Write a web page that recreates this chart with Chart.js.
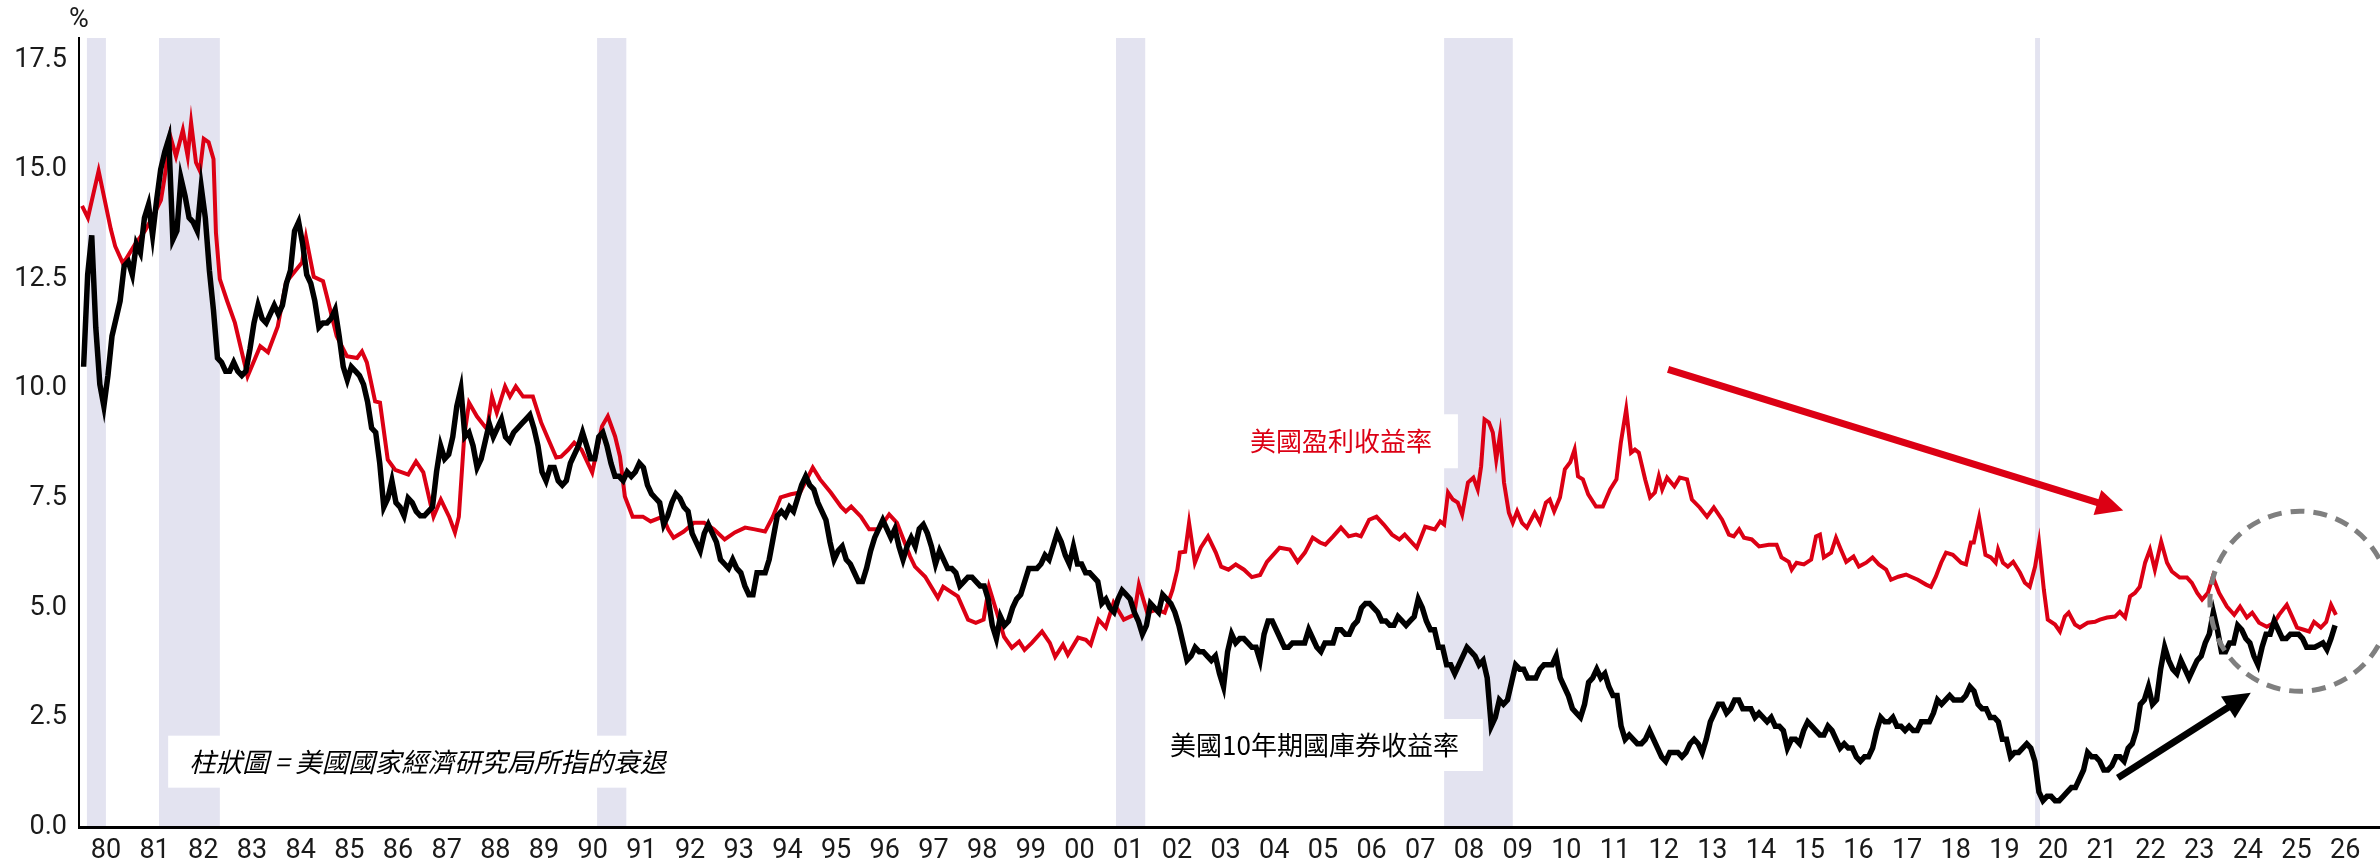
<!DOCTYPE html>
<html>
<head>
<meta charset="utf-8">
<script src="https://cdn.jsdelivr.net/npm/chart.js@4"></script>
<style>
  html, body { margin: 0; padding: 0; background: #fff; }
  canvas { display: block; }
</style>
</head>
<body>
<canvas id="yieldChart" width="2380" height="866"></canvas>
<script>
// US 10-year Treasury yield, monthly from Jan 1980 (one row per year)
const treasuryStart = 1980;
const treasury10y = [
  10.5, 12.6, 13.5, 11.4, 10.1, 9.6, 10.3, 11.2, 11.6, 12.0, 12.8, 12.9,
  12.6, 13.3, 13.1, 13.9, 14.2, 13.5, 14.3, 15.0, 15.4, 15.7, 13.4, 13.6,
  14.8, 14.4, 13.9, 13.8, 13.6, 14.6, 13.9, 12.7, 11.8, 10.7, 10.6, 10.4,
  10.4, 10.6, 10.4, 10.3, 10.4, 10.9, 11.5, 11.9, 11.6, 11.5, 11.7, 11.9,
  11.7, 11.9, 12.4, 12.7, 13.6, 13.8, 13.3, 12.6, 12.4, 12.0, 11.4, 11.5,
  11.5, 11.6, 11.8, 11.2, 10.5, 10.2, 10.5, 10.4, 10.3, 10.1, 9.7, 9.1,
  9.0, 8.3, 7.3, 7.5, 7.9, 7.4, 7.3, 7.1, 7.5, 7.4, 7.2, 7.1,
  7.1, 7.2, 7.3, 8.1, 8.7, 8.4, 8.5, 8.9, 9.6, 10.0, 8.9, 9.0,
  8.7, 8.2, 8.4, 8.8, 9.2, 8.9, 9.1, 9.3, 8.9, 8.8, 9.0, 9.1,
  9.2, 9.3, 9.4, 9.1, 8.7, 8.1, 7.9, 8.2, 8.2, 7.9, 7.8, 7.9,
  8.3, 8.5, 8.7, 9.0, 8.7, 8.4, 8.4, 8.9, 9.0, 8.7, 8.3, 8.0,
  8.0, 7.9, 8.1, 8.0, 8.1, 8.3, 8.2, 7.8, 7.6, 7.5, 7.4, 6.9,
  7.1, 7.4, 7.6, 7.5, 7.3, 7.2, 6.7, 6.5, 6.3, 6.7, 6.9, 6.7,
  6.5, 6.1, 6.0, 5.9, 6.1, 5.9, 5.8, 5.5, 5.3, 5.3, 5.8, 5.8,
  5.8, 6.1, 6.6, 7.1, 7.2, 7.1, 7.3, 7.2, 7.5, 7.8, 8.0, 7.8,
  7.7, 7.4, 7.2, 7.0, 6.5, 6.1, 6.3, 6.4, 6.1, 6.0, 5.8, 5.6,
  5.6, 5.9, 6.3, 6.6, 6.8, 7.0, 6.8, 6.6, 6.8, 6.4, 6.1, 6.4,
  6.6, 6.4, 6.8, 6.9, 6.7, 6.4, 6.0, 6.3, 6.1, 5.9, 5.9, 5.8,
  5.5, 5.6, 5.7, 5.7, 5.6, 5.5, 5.5, 5.2, 4.6, 4.3, 4.8, 4.6,
  4.7, 5.0, 5.2, 5.3, 5.6, 5.9, 5.9, 5.9, 6.0, 6.2, 6.1, 6.4,
  6.7, 6.5, 6.2, 6.0, 6.4, 6.0, 6.0, 5.8, 5.8, 5.7, 5.6, 5.1,
  5.2, 5.0, 4.9, 5.2, 5.4, 5.3, 5.2, 4.9, 4.7, 4.4, 4.6, 5.1,
  5.0, 4.9, 5.3, 5.2, 5.1, 4.9, 4.6, 4.2, 3.8, 3.9, 4.1, 4.0,
  4.0, 3.9, 3.8, 3.9, 3.5, 3.2, 4.0, 4.4, 4.2, 4.3, 4.3, 4.2,
  4.1, 4.1, 3.8, 4.4, 4.7, 4.7, 4.5, 4.3, 4.1, 4.1, 4.2, 4.2,
  4.2, 4.2, 4.5, 4.3, 4.1, 4.0, 4.2, 4.2, 4.2, 4.5, 4.5, 4.4,
  4.4, 4.6, 4.7, 5.0, 5.1, 5.1, 5.0, 4.9, 4.7, 4.7, 4.6, 4.6,
  4.8, 4.7, 4.6, 4.7, 4.8, 5.2, 5.0, 4.7, 4.5, 4.5, 4.1, 4.1,
  3.7, 3.7, 3.5, 3.7, 3.9, 4.1, 4.0, 3.9, 3.7, 3.8, 3.4, 2.3,
  2.5, 2.9, 2.8, 2.9, 3.3, 3.7, 3.6, 3.6, 3.4, 3.4, 3.4, 3.6,
  3.7, 3.7, 3.7, 3.9, 3.4, 3.2, 3.0, 2.7, 2.6, 2.5, 2.8, 3.3,
  3.4, 3.6, 3.4, 3.5, 3.2, 3.0, 3.0, 2.3, 2.0, 2.1, 2.0, 1.9,
  1.9, 2.0, 2.2, 2.0, 1.8, 1.6, 1.5, 1.7, 1.7, 1.7, 1.6, 1.7,
  1.9, 2.0, 1.9, 1.7, 2.0, 2.4, 2.6, 2.8, 2.8, 2.6, 2.7, 2.9,
  2.9, 2.7, 2.7, 2.7, 2.5, 2.6, 2.5, 2.4, 2.5, 2.3, 2.3, 2.2,
  1.8, 2.0, 2.0, 1.9, 2.2, 2.4, 2.3, 2.2, 2.1, 2.1, 2.3, 2.2,
  2.0, 1.8, 1.9, 1.8, 1.8, 1.6, 1.5, 1.6, 1.6, 1.8, 2.2, 2.5,
  2.4, 2.4, 2.5, 2.3, 2.3, 2.2, 2.3, 2.2, 2.2, 2.4, 2.4, 2.4,
  2.6, 2.9, 2.8, 2.9, 3.0, 2.9, 2.9, 2.9, 3.0, 3.2, 3.1, 2.8,
  2.7, 2.7, 2.5, 2.5, 2.4, 2.0, 2.0, 1.6, 1.7, 1.7, 1.8, 1.9,
  1.8, 1.5, 0.8, 0.6, 0.7, 0.7, 0.6, 0.6, 0.7, 0.8, 0.9, 0.9,
  1.1, 1.3, 1.7, 1.6, 1.6, 1.5, 1.3, 1.3, 1.4, 1.6, 1.6, 1.5,
  1.8, 1.9, 2.2, 2.8, 2.9, 3.2, 2.8, 2.9, 3.6, 4.1, 3.8, 3.6,
  3.5, 3.8, 3.6, 3.4, 3.6, 3.8, 3.9, 4.2, 4.4, 4.9, 4.5, 4.0,
  4.0, 4.2, 4.2, 4.6, 4.5, 4.3, 4.2, 3.9, 3.7, 4.1, 4.4, 4.4,
  4.7, 4.5, 4.3, 4.3, 4.4, 4.4, 4.4, 4.3, 4.1, 4.1, 4.1, 4.15,
  4.2, 4.05, 4.3, 4.6
];

// US earnings yield, read point by point (decimal year, %)
const earningsYears = [
  1980.01, 1980.13, 1980.35, 1980.60, 1980.69, 1980.84, 1980.91, 1981.10, 1981.30, 1981.47,
  1981.63, 1981.70, 1981.82, 1981.94, 1982.08, 1982.18, 1982.25, 1982.35, 1982.43, 1982.51,
  1982.61, 1982.71, 1982.76, 1982.84, 1982.99, 1983.15, 1983.41, 1983.67, 1983.83, 1984.03,
  1984.20, 1984.53, 1984.61, 1984.77, 1984.96, 1985.04, 1985.14, 1985.24, 1985.45, 1985.66,
  1985.76, 1985.86, 1986.03, 1986.13, 1986.29, 1986.44, 1986.71, 1986.87, 1987.02, 1987.18,
  1987.23, 1987.38, 1987.55, 1987.67, 1987.75, 1987.86, 1987.96, 1988.12, 1988.33, 1988.43,
  1988.53, 1988.70, 1988.80, 1988.92, 1989.07, 1989.27, 1989.44, 1989.59, 1989.75, 1989.85,
  1989.99, 1990.12, 1990.27, 1990.49, 1990.69, 1990.81, 1990.96, 1991.06, 1991.16, 1991.32,
  1991.53, 1991.69, 1991.94, 1992.05, 1992.16, 1992.37, 1992.58, 1992.79, 1992.99, 1993.21,
  1993.42, 1993.63, 1993.83, 1994.04, 1994.20, 1994.36, 1994.57, 1994.76, 1995.02, 1995.17,
  1995.39, 1995.60, 1995.70, 1995.81, 1996.01, 1996.18, 1996.38, 1996.59, 1996.75, 1997.02,
  1997.12, 1997.33, 1997.59, 1997.70, 1997.85, 1998.00, 1998.21, 1998.37, 1998.53, 1998.64,
  1998.80, 1998.95, 1999.11, 1999.26, 1999.37, 1999.52, 1999.73, 1999.89, 2000.00, 2000.16,
  2000.26, 2000.47, 2000.63, 2000.73, 2000.89, 2001.04, 2001.20, 2001.41, 2001.62, 2001.72,
  2001.89, 2002.09, 2002.25, 2002.41, 2002.51, 2002.56, 2002.67, 2002.75, 2002.87, 2002.99,
  2003.14, 2003.30, 2003.41, 2003.56, 2003.71, 2003.88, 2004.04, 2004.21, 2004.35, 2004.61,
  2004.82, 2004.98, 2005.13, 2005.29, 2005.44, 2005.55, 2005.71, 2005.87, 2006.03, 2006.18,
  2006.28, 2006.45, 2006.60, 2006.75, 2006.92, 2007.07, 2007.18, 2007.33, 2007.43, 2007.60,
  2007.80, 2007.91, 2007.99, 2008.07, 2008.17, 2008.27, 2008.36, 2008.48, 2008.59, 2008.68,
  2008.75, 2008.82, 2008.91, 2008.99, 2009.06, 2009.14, 2009.22, 2009.32, 2009.40, 2009.49,
  2009.59, 2009.69, 2009.85, 2009.96, 2010.08, 2010.16, 2010.25, 2010.37, 2010.47, 2010.58,
  2010.67, 2010.74, 2010.84, 2010.95, 2011.11, 2011.25, 2011.40, 2011.53, 2011.62, 2011.73,
  2011.83, 2011.91, 2011.99, 2012.12, 2012.22, 2012.32, 2012.40, 2012.47, 2012.57, 2012.72,
  2012.83, 2012.98, 2013.08, 2013.24, 2013.39, 2013.53, 2013.70, 2013.84, 2013.94, 2014.05,
  2014.15, 2014.31, 2014.46, 2014.66, 2014.82, 2014.92, 2015.07, 2015.13, 2015.23, 2015.38,
  2015.53, 2015.63, 2015.71, 2015.79, 2015.94, 2016.04, 2016.14, 2016.25, 2016.40, 2016.51,
  2016.66, 2016.79, 2016.92, 2017.07, 2017.17, 2017.32, 2017.48, 2017.58, 2017.72, 2017.89,
  2017.99, 2018.09, 2018.20, 2018.30, 2018.44, 2018.61, 2018.71, 2018.81, 2018.87, 2018.98,
  2019.11, 2019.22, 2019.32, 2019.37, 2019.47, 2019.57, 2019.68, 2019.82, 2019.92, 2020.02,
  2020.13, 2020.21, 2020.31, 2020.39, 2020.54, 2020.64, 2020.74, 2020.82, 2020.95, 2021.05,
  2021.21, 2021.36, 2021.46, 2021.61, 2021.77, 2021.87, 2021.98, 2022.08, 2022.18, 2022.28,
  2022.39, 2022.49, 2022.59, 2022.72, 2022.84, 2022.94, 2023.10, 2023.25, 2023.35, 2023.46,
  2023.56, 2023.68, 2023.78, 2023.91, 2024.07, 2024.22, 2024.34, 2024.48, 2024.59, 2024.73,
  2024.89, 2025.04, 2025.14, 2025.30, 2025.41, 2025.51, 2025.65, 2025.76, 2025.86, 2026.00,
  2026.11, 2026.21, 2026.31
];
const earningsYield = [
  14.17, 13.90, 14.97, 13.64, 13.25, 12.88, 12.95, 13.30, 13.60, 13.94,
  14.30, 14.78, 15.77, 15.30, 15.90, 15.30, 16.07, 15.16, 14.97, 15.70,
  15.62, 15.24, 13.56, 12.50, 12.00, 11.50, 10.28, 10.97, 10.83, 11.42,
  12.43, 12.88, 13.45, 12.55, 12.45, 12.10, 11.65, 11.20, 10.74, 10.70,
  10.85, 10.60, 9.71, 9.68, 8.38, 8.15, 8.04, 8.34, 8.09, 7.31,
  7.08, 7.47, 7.08, 6.72, 7.08, 8.91, 9.68, 9.37, 9.07, 9.82,
  9.45, 10.05, 9.82, 10.05, 9.82, 9.82, 9.23, 8.84, 8.43, 8.45,
  8.60, 8.77, 8.61, 8.09, 9.14, 9.37, 8.91, 8.45, 7.54, 7.08,
  7.08, 6.97, 7.08, 6.79, 6.60, 6.74, 6.94, 6.94, 6.79, 6.56,
  6.72, 6.83, 6.79, 6.74, 7.08, 7.52, 7.59, 7.63, 8.20, 7.93,
  7.63, 7.31, 7.20, 7.31, 7.08, 6.79, 6.79, 7.13, 6.94, 6.17,
  5.94, 5.71, 5.23, 5.48, 5.37, 5.26, 4.73, 4.66, 4.73, 5.48,
  4.90, 4.34, 4.09, 4.23, 4.04, 4.20, 4.46, 4.20, 3.88, 4.16,
  3.93, 4.32, 4.27, 4.16, 4.73, 4.55, 5.12, 4.73, 4.84, 5.53,
  4.89, 4.96, 4.89, 5.41, 5.87, 6.26, 6.28, 6.94, 6.03, 6.37,
  6.63, 6.26, 5.94, 5.87, 5.99, 5.87, 5.70, 5.75, 6.05, 6.37,
  6.33, 6.05, 6.26, 6.60, 6.49, 6.44, 6.63, 6.83, 6.63, 6.67,
  6.63, 7.01, 7.08, 6.90, 6.67, 6.56, 6.67, 6.49, 6.37, 6.85,
  6.79, 6.97, 6.90, 7.63, 7.47, 7.40, 7.13, 7.86, 7.97, 7.70,
  8.23, 9.30, 9.23, 9.00, 8.38, 8.96, 7.86, 7.17, 6.94, 7.20,
  6.94, 6.83, 7.17, 6.94, 7.40, 7.47, 7.20, 7.52, 8.16, 8.32,
  8.61, 8.00, 7.93, 7.59, 7.31, 7.31, 7.70, 7.93, 8.77, 9.53,
  8.54, 8.61, 8.54, 7.93, 7.52, 7.63, 8.00, 7.70, 7.97, 7.77,
  7.97, 7.93, 7.47, 7.29, 7.08, 7.29, 7.01, 6.67, 6.63, 6.79,
  6.60, 6.56, 6.40, 6.44, 6.44, 6.15, 6.05, 5.87, 6.03, 5.99,
  6.10, 6.63, 6.67, 6.15, 6.26, 6.60, 6.33, 6.05, 6.17, 5.94,
  6.03, 6.15, 5.99, 5.87, 5.64, 5.71, 5.76, 5.71, 5.64, 5.53,
  5.48, 5.71, 6.03, 6.26, 6.21, 6.03, 5.99, 6.49, 6.49, 7.06,
  6.21, 6.15, 6.03, 6.33, 6.03, 5.94, 6.05, 5.80, 5.57, 5.48,
  5.94, 6.49, 5.41, 4.73, 4.62, 4.46, 4.80, 4.89, 4.62, 4.55,
  4.66, 4.68, 4.73, 4.78, 4.80, 4.91, 4.78, 5.26, 5.34, 5.48,
  6.03, 6.33, 5.87, 6.51, 6.03, 5.83, 5.69, 5.69, 5.57, 5.34,
  5.19, 5.34, 5.71, 5.34, 5.03, 4.84, 5.03, 4.78, 4.89, 4.66,
  4.57, 4.66, 4.84, 5.07, 4.80, 4.55, 4.50, 4.46, 4.68, 4.55,
  4.68, 5.07, 4.84
];

// NBER recessions (decimal years)
const recessionStart = [1980.11, 1981.59, 1990.59, 2001.25, 2007.99, 2020.13];
const recessionEnd   = [1980.50, 1982.84, 1991.19, 2001.85, 2009.40, 2020.23];

// axis ticks
const tickYears = [1980, 1981, 1982, 1983, 1984, 1985, 1986, 1987, 1988, 1989,
  1990, 1991, 1992, 1993, 1994, 1995, 1996, 1997, 1998, 1999,
  2000, 2001, 2002, 2003, 2004, 2005, 2006, 2007, 2008, 2009,
  2010, 2011, 2012, 2013, 2014, 2015, 2016, 2017, 2018, 2019,
  2020, 2021, 2022, 2023, 2024, 2025, 2026];
const yTicks = [0, 2.5, 5, 7.5, 10, 12.5, 15, 17.5];

const RED = '#dc0014';
const CJK = '"Noto Sans CJK TC", "Noto Sans CJK SC", sans-serif';

// text labels and markings, anchored in data units
const labels = [
  { text: '美國盈利收益率', x: 2004.00, y: 8.80, color: RED, font: '26px ' + CJK, padX: 26, boxH: 54 },
  { text: '美國10年期國庫券收益率', x: 2002.36, y: 1.87, color: '#000', font: '26px ' + CJK, padX: 24, boxH: 52 },
  { text: '柱狀圖 = 美國國家經濟研究局所指的衰退', x: 1982.21, y: 1.49, color: '#000', font: 'italic 26.5px ' + CJK, padX: 21, boxH: 52 }
];
const arrows = [
  { from: [2012.59, 10.44], to: [2021.94, 7.22], color: RED },
  { from: [2021.83, 1.12], to: [2024.56, 3.06], color: '#000' }
];
const ring = { x: 2025.57, y: 5.15, r: 90 };

const treasuryPoints = treasury10y.map((v, i) => ({ x: treasuryStart + (i + 0.5) / 12, y: v }));
const earningsPoints = earningsYears.map((yr, i) => ({ x: yr, y: earningsYield[i] }));

function drawArrow(ctx, x0, y0, x1, y1, color) {
  const ang = Math.atan2(y1 - y0, x1 - x0);
  const headLen = 27, headHalf = 13;
  const bx = x1 - headLen * Math.cos(ang), by = y1 - headLen * Math.sin(ang);
  ctx.strokeStyle = color;
  ctx.lineWidth = 7;
  ctx.beginPath();
  ctx.moveTo(x0, y0);
  ctx.lineTo(bx + 2 * Math.cos(ang), by + 2 * Math.sin(ang));
  ctx.stroke();
  ctx.fillStyle = color;
  ctx.beginPath();
  ctx.moveTo(x1, y1);
  ctx.lineTo(bx + headHalf * Math.sin(ang), by - headHalf * Math.cos(ang));
  ctx.lineTo(bx - headHalf * Math.sin(ang), by + headHalf * Math.cos(ang));
  ctx.closePath();
  ctx.fill();
}

const overlay = {
  id: 'overlay',
  beforeDraw(chart) {
    const { ctx, chartArea: a, scales: { x, y } } = chart;
    ctx.save();
    // recession bars
    ctx.fillStyle = '#e3e3f0';
    recessionStart.forEach((s, i) => {
      const x0 = x.getPixelForValue(s);
      const x1 = x.getPixelForValue(recessionEnd[i]);
      ctx.fillRect(x0, a.top, x1 - x0, a.bottom - a.top);
    });
    // white boxes behind the labels
    ctx.fillStyle = '#fff';
    labels.forEach(l => {
      ctx.font = l.font;
      const w = ctx.measureText(l.text).width;
      const px = x.getPixelForValue(l.x), py = y.getPixelForValue(l.y);
      ctx.fillRect(px - l.padX, py - l.boxH / 2, w + 2 * l.padX, l.boxH);
    });
    ctx.restore();
  },
  afterDatasetsDraw(chart) {
    const { ctx, chartArea: a, scales: { x, y } } = chart;
    ctx.save();
    ctx.textBaseline = 'middle';
    ctx.textAlign = 'left';
    labels.forEach(l => {
      ctx.font = l.font;
      ctx.fillStyle = l.color;
      ctx.fillText(l.text, x.getPixelForValue(l.x), y.getPixelForValue(l.y));
    });
    arrows.forEach(ar => {
      drawArrow(ctx, x.getPixelForValue(ar.from[0]), y.getPixelForValue(ar.from[1]),
        x.getPixelForValue(ar.to[0]), y.getPixelForValue(ar.to[1]), ar.color);
    });
    // dashed circle
    ctx.strokeStyle = '#7f7f7f';
    ctx.lineWidth = 5;
    ctx.setLineDash([14, 9]);
    ctx.beginPath();
    ctx.arc(x.getPixelForValue(ring.x), y.getPixelForValue(ring.y), ring.r, 0, Math.PI * 2);
    ctx.stroke();
    ctx.setLineDash([]);
    // unit
    ctx.font = '27px Roboto';
    ctx.fillStyle = '#1a1a1a';
    ctx.textAlign = 'center';
    ctx.fillText('%', a.left, 20);
    ctx.restore();
  }
};

Chart.defaults.font.family = 'Roboto';
Chart.defaults.font.size = 27;
Chart.defaults.color = '#1a1a1a';

const ctx = document.getElementById('yieldChart').getContext('2d');
const yieldChart = new Chart(ctx, {
  type: 'line',
  data: {
    datasets: [
      {
        label: '美國10年期國庫券收益率',
        data: treasuryPoints,
        borderColor: '#000',
        borderWidth: 5.5,
        pointRadius: 0,
        tension: 0
      },
      {
        label: '美國盈利收益率',
        data: earningsPoints,
        borderColor: RED,
        borderWidth: 4,
        pointRadius: 0,
        tension: 0
      }
    ]
  },
  options: {
    responsive: false,
    animation: false,
    devicePixelRatio: 1,
    events: [],
    layout: { padding: { top: 38, left: 0, right: 0, bottom: 0 } },
    plugins: {
      legend: { display: false },
      tooltip: { enabled: false }
    },
    scales: {
      x: {
        type: 'linear',
        min: 1979.947,
        max: 2027.215,
        grid: { display: false, drawTicks: false },
        border: { display: true, color: '#000', width: 3 },
        afterBuildTicks: scale => { scale.ticks = tickYears.map(yr => ({ value: yr + 0.5 })); },
        afterFit: scale => { scale.height = 39; },
        ticks: {
          autoSkip: false,
          maxRotation: 0,
          padding: 8,
          callback: v => String(Math.floor(v) % 100).padStart(2, '0')
        }
      },
      y: {
        min: 0,
        max: 18,
        grid: { display: false, drawTicks: false },
        border: { display: true, color: '#000', width: 2 },
        afterBuildTicks: scale => { scale.ticks = yTicks.map(v => ({ value: v })); },
        afterFit: scale => { scale.width = 79; },
        ticks: {
          padding: 12,
          callback: v => v.toFixed(1)
        }
      }
    }
  },
  plugins: [overlay]
});
</script>
</body>
</html>
